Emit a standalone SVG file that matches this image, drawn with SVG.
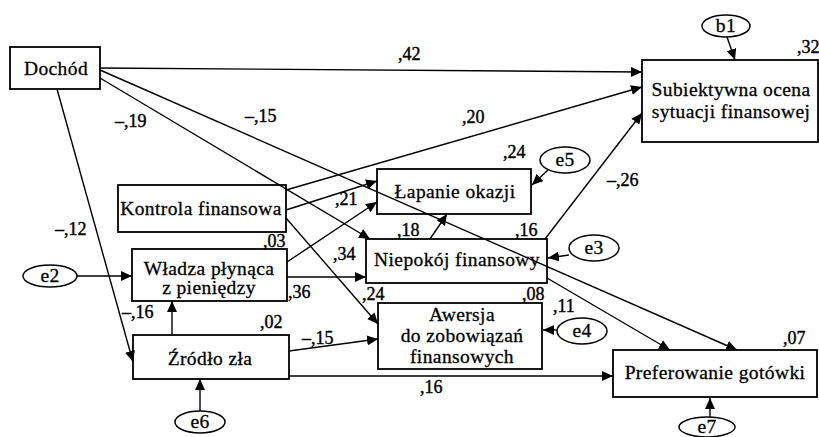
<svg xmlns="http://www.w3.org/2000/svg" width="819" height="437" viewBox="0 0 819 437">
<style>
.box{fill:#fff;stroke:#000;stroke-width:1.8}
.ell{fill:#fff;stroke:#000;stroke-width:1.5}
.t{font-family:"Liberation Serif","Times New Roman",serif;font-size:19.5px;letter-spacing:0.4px;fill:#000;stroke:#000;stroke-width:0.3;text-anchor:middle}
.n{font-family:"Liberation Serif","Times New Roman",serif;font-size:18px;fill:#000;stroke:#000;stroke-width:0.4}
.c line{stroke:#000;stroke-width:1.4;marker-end:url(#ah)}
</style>
<defs>
<marker id="ah" markerUnits="userSpaceOnUse" markerWidth="12" markerHeight="10" refX="11" refY="5" orient="auto">
<path d="M0,0 L11,5 L0,10 z" fill="#000"/>
</marker>
</defs>
<rect width="819" height="437" fill="#fff"/>
<g id="dochod"><rect class="box" x="10" y="47" width="90" height="42"/><text class="t" x="56" y="75">Dochód</text></g>
<g id="subiektywna"><rect class="box" x="642" y="60" width="176" height="82"/><text class="t" x="731" y="96">Subiektywna ocena</text><text class="t" x="731" y="118">sytuacji finansowej</text></g>
<g id="kontrola"><rect class="box" x="118" y="185" width="168" height="47"/><text class="t" x="201" y="215">Kontrola finansowa</text></g>
<g id="wladza"><rect class="box" x="132" y="249" width="155" height="52"/><text class="t" x="209" y="275">Władza płynąca</text><text class="t" x="209" y="294">z pieniędzy</text></g>
<g id="zrodlo"><rect class="box" x="133" y="335" width="156" height="44"/><text class="t" x="210" y="365">Źródło zła</text></g>
<g id="lapanie"><rect class="box" x="377" y="169" width="154" height="45"/><text class="t" x="455" y="198">Łapanie okazji</text></g>
<g id="niepokoj"><rect class="box" x="366" y="239" width="181" height="44"/><text class="t" x="457" y="266">Niepokój finansowy</text></g>
<g id="awersja"><rect class="box" x="378" y="303" width="164" height="66"/><text class="t" x="462" y="321">Awersja</text><text class="t" x="462" y="342">do zobowiązań</text><text class="t" x="462" y="363">finansowych</text></g>
<g id="preferowanie"><rect class="box" x="613" y="350" width="204" height="47"/><text class="t" x="715" y="379">Preferowanie gotówki</text></g>
<g id="b1"><ellipse class="ell" cx="726" cy="26" rx="24" ry="11"/><text class="t" x="726" y="32">b1</text></g>
<g id="e5"><ellipse class="ell" cx="565" cy="160" rx="25" ry="13"/><text class="t" x="565" y="166">e5</text></g>
<g id="e3"><ellipse class="ell" cx="594" cy="248" rx="25" ry="13"/><text class="t" x="594" y="254">e3</text></g>
<g id="e4"><ellipse class="ell" cx="582" cy="331" rx="25" ry="13"/><text class="t" x="582" y="337">e4</text></g>
<g id="e2"><ellipse class="ell" cx="50" cy="276" rx="27" ry="11"/><text class="t" x="50" y="282">e2</text></g>
<g id="e6"><ellipse class="ell" cx="200" cy="422" rx="25" ry="11"/><text class="t" x="200" y="428">e6</text></g>
<g id="e7"><ellipse class="ell" cx="707" cy="427" rx="28" ry="10"/><text class="t" x="707" y="433">e7</text></g>
<g id="connectors" class="c">
<line x1="100" y1="68" x2="642" y2="72"/>
<line x1="100" y1="78" x2="370" y2="239"/>
<line x1="100" y1="70" x2="737" y2="350"/>
<line x1="57" y1="89" x2="133" y2="362"/>
<line x1="286" y1="190" x2="642" y2="87"/>
<line x1="286" y1="210" x2="377" y2="181"/>
<line x1="287" y1="262" x2="377" y2="202"/>
<line x1="287" y1="277" x2="366" y2="277"/>
<line x1="286" y1="218" x2="378" y2="324"/>
<line x1="430" y1="239" x2="447" y2="214"/>
<line x1="545" y1="239" x2="642" y2="113"/>
<line x1="547" y1="278" x2="670" y2="350"/>
<line x1="289" y1="351" x2="378" y2="339"/>
<line x1="289" y1="376" x2="613" y2="376"/>
<line x1="172" y1="335" x2="172" y2="301"/>
<line x1="727" y1="37" x2="735" y2="60"/>
<line x1="548" y1="170" x2="532" y2="185"/>
<line x1="569" y1="255" x2="548" y2="258"/>
<line x1="557" y1="330" x2="543" y2="330"/>
<line x1="77" y1="276" x2="132" y2="276"/>
<line x1="200" y1="411" x2="200" y2="379"/>
<line x1="710" y1="417" x2="710" y2="398"/>
</g>
<g id="labels">
<text class="n" x="398" y="60">,42</text>
<text class="n" x="462" y="123">,20</text>
<text class="n" x="797" y="53">,32</text>
<text class="n" x="115" y="127">–,19</text>
<text class="n" x="245" y="122">–,15</text>
<text class="n" x="55" y="235">–,12</text>
<text class="n" x="263" y="247">,03</text>
<text class="n" x="503" y="158">,24</text>
<text class="n" x="335" y="205">,21</text>
<text class="n" x="397" y="236">,18</text>
<text class="n" x="515" y="236">,16</text>
<text class="n" x="333" y="260">,34</text>
<text class="n" x="288" y="298">,36</text>
<text class="n" x="362" y="300">,24</text>
<text class="n" x="522" y="300">,08</text>
<text class="n" x="607" y="186">–,26</text>
<text class="n" x="553" y="312">,11</text>
<text class="n" x="783" y="344">,07</text>
<text class="n" x="420" y="393">,16</text>
<text class="n" x="260" y="328">,02</text>
<text class="n" x="122" y="318">–,16</text>
<text class="n" x="302" y="344">–,15</text>
</g>
</svg>
